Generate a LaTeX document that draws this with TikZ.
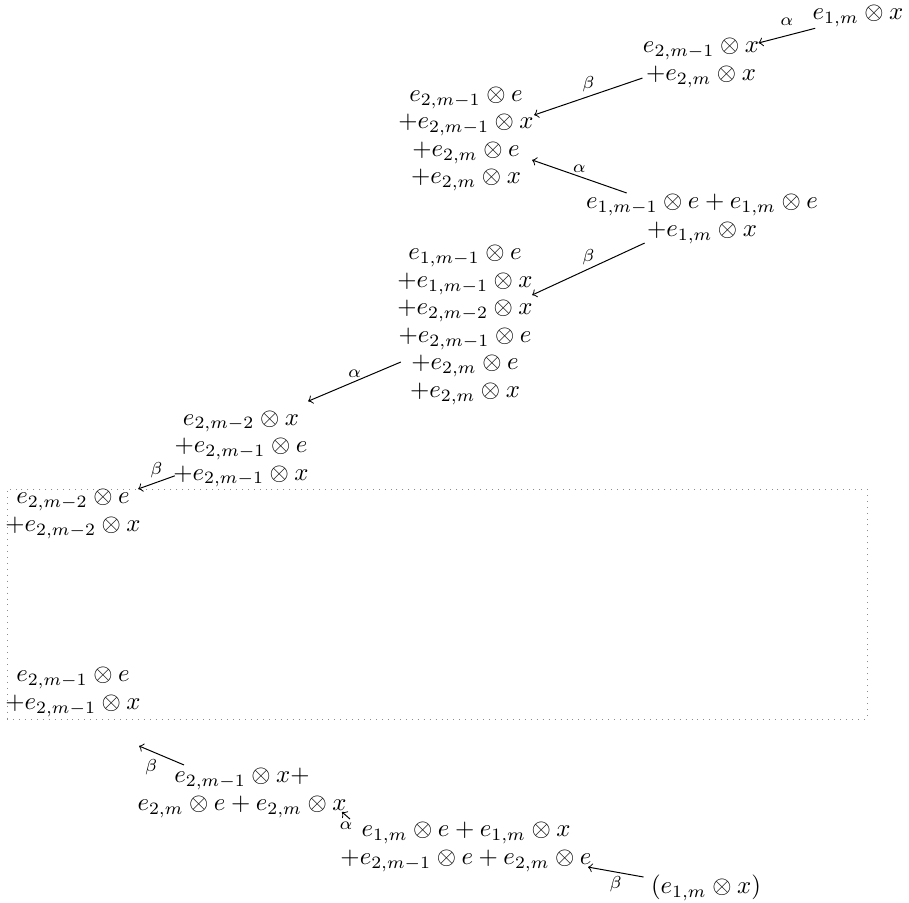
\documentclass[tikz,border=0pt]{standalone}
\usetikzlibrary{calc}
\tikzset{
  term/.style={inner sep=0pt, align=center, font=\fontsize{10}{11.1}\selectfont},
  arr/.style={->, line width=0.4pt},
  lab/.style={font=\scriptsize, inner sep=1.5pt},
  frame/.style={draw=black!45, dotted, line width=0.4pt, inner sep=0pt,
                minimum width=346.75pt, minimum height=92.74pt},
}
\begin{document}
\begin{tikzpicture}[x=0.4032pt, y=-0.4032pt]
\useasboundingbox (0,0) rectangle (909,902);

% terms of the chain
\node[term] (A) at (858,16) {$e_{1,m}\otimes x$};
\node[term] (B) at (701,63) {$e_{2,m-1}\otimes x$\\$+e_{2,m}\otimes x$};
\node[term] (C) at (466,139) {$e_{2,m-1}\otimes e$\\$+e_{2,m-1}\otimes x$\\$+e_{2,m}\otimes e$\\$+e_{2,m}\otimes x$};
\node[term] (D) at (702,219) {$e_{1,m-1}\otimes e+e_{1,m}\otimes e$\\$+e_{1,m}\otimes x$};
\node[term] (E) at (465,325) {$e_{1,m-1}\otimes e$\\$+e_{1,m-1}\otimes x$\\$+e_{2,m-2}\otimes x$\\$+e_{2,m-1}\otimes e$\\$+e_{2,m}\otimes e$\\$+e_{2,m}\otimes x$};
\node[term] (F) at (241,449) {$e_{2,m-2}\otimes x$\\$+e_{2,m-1}\otimes e$\\$+e_{2,m-1}\otimes x$};
\node[frame] (box) at (437,604) {};
\node[term] (G) at (73,514) {$e_{2,m-2}\otimes e$\\$+e_{2,m-2}\otimes x$};
\node[term] (H) at (73,692) {$e_{2,m-1}\otimes e$\\$+e_{2,m-1}\otimes x$};
\node[term] (I) at (242,793) {$e_{2,m-1}\otimes x+$\\$e_{2,m}\otimes e+e_{2,m}\otimes x$};
\node[term] (J) at (466,847) {$e_{1,m}\otimes e+e_{1,m}\otimes x$\\$+e_{2,m-1}\otimes e+e_{2,m}\otimes e$};
\node[term] (K) at (706,888) {$(e_{1,m}\otimes x)$};

% maps between them
\draw[arr] ([shift={(3,1)}]A.south west) -- node[lab,above=2.5pt]{$\alpha$} ([shift={(-1,5)}]B.north east);
\draw[arr] ([shift={(0,-10)}]B.south west) -- node[lab,above]{$\beta$} ([shift={(0,-24)}]C.east);
\draw[arr] ([shift={(41,-1)}]D.north west) -- node[lab,above]{$\alpha$} ([shift={(-2,21)}]C.east);
\draw[arr] ([shift={(59,-1)}]D.south west) -- node[lab,above]{$\beta$} ([shift={(-1,-30)}]E.east);
\draw[arr] ([shift={(4,37)}]E.west) -- node[lab,above]{$\alpha$} ([shift={(-1,-9)}]F.north east);
\draw[arr] ([shift={(2,-12)}]F.south west) -- node[lab,above]{$\beta$} ([shift={(-3,0)}]G.north east);
\draw[arr] ([shift={(47,-3)}]I.north west) -- node[lab,below left]{$\beta$} ([shift={(2,-22)}]I.north west);
\draw[arr] ($(J)+(-116,-28)$) -- node[lab,below=1pt]{$\alpha$} ($(I)+(100,19)$);
\draw[arr] ([shift={(-7,-11)}]K.west) -- node[lab,below]{$\beta$} ([shift={(-4,-5)}]J.south east);
\end{tikzpicture}
\end{document}
